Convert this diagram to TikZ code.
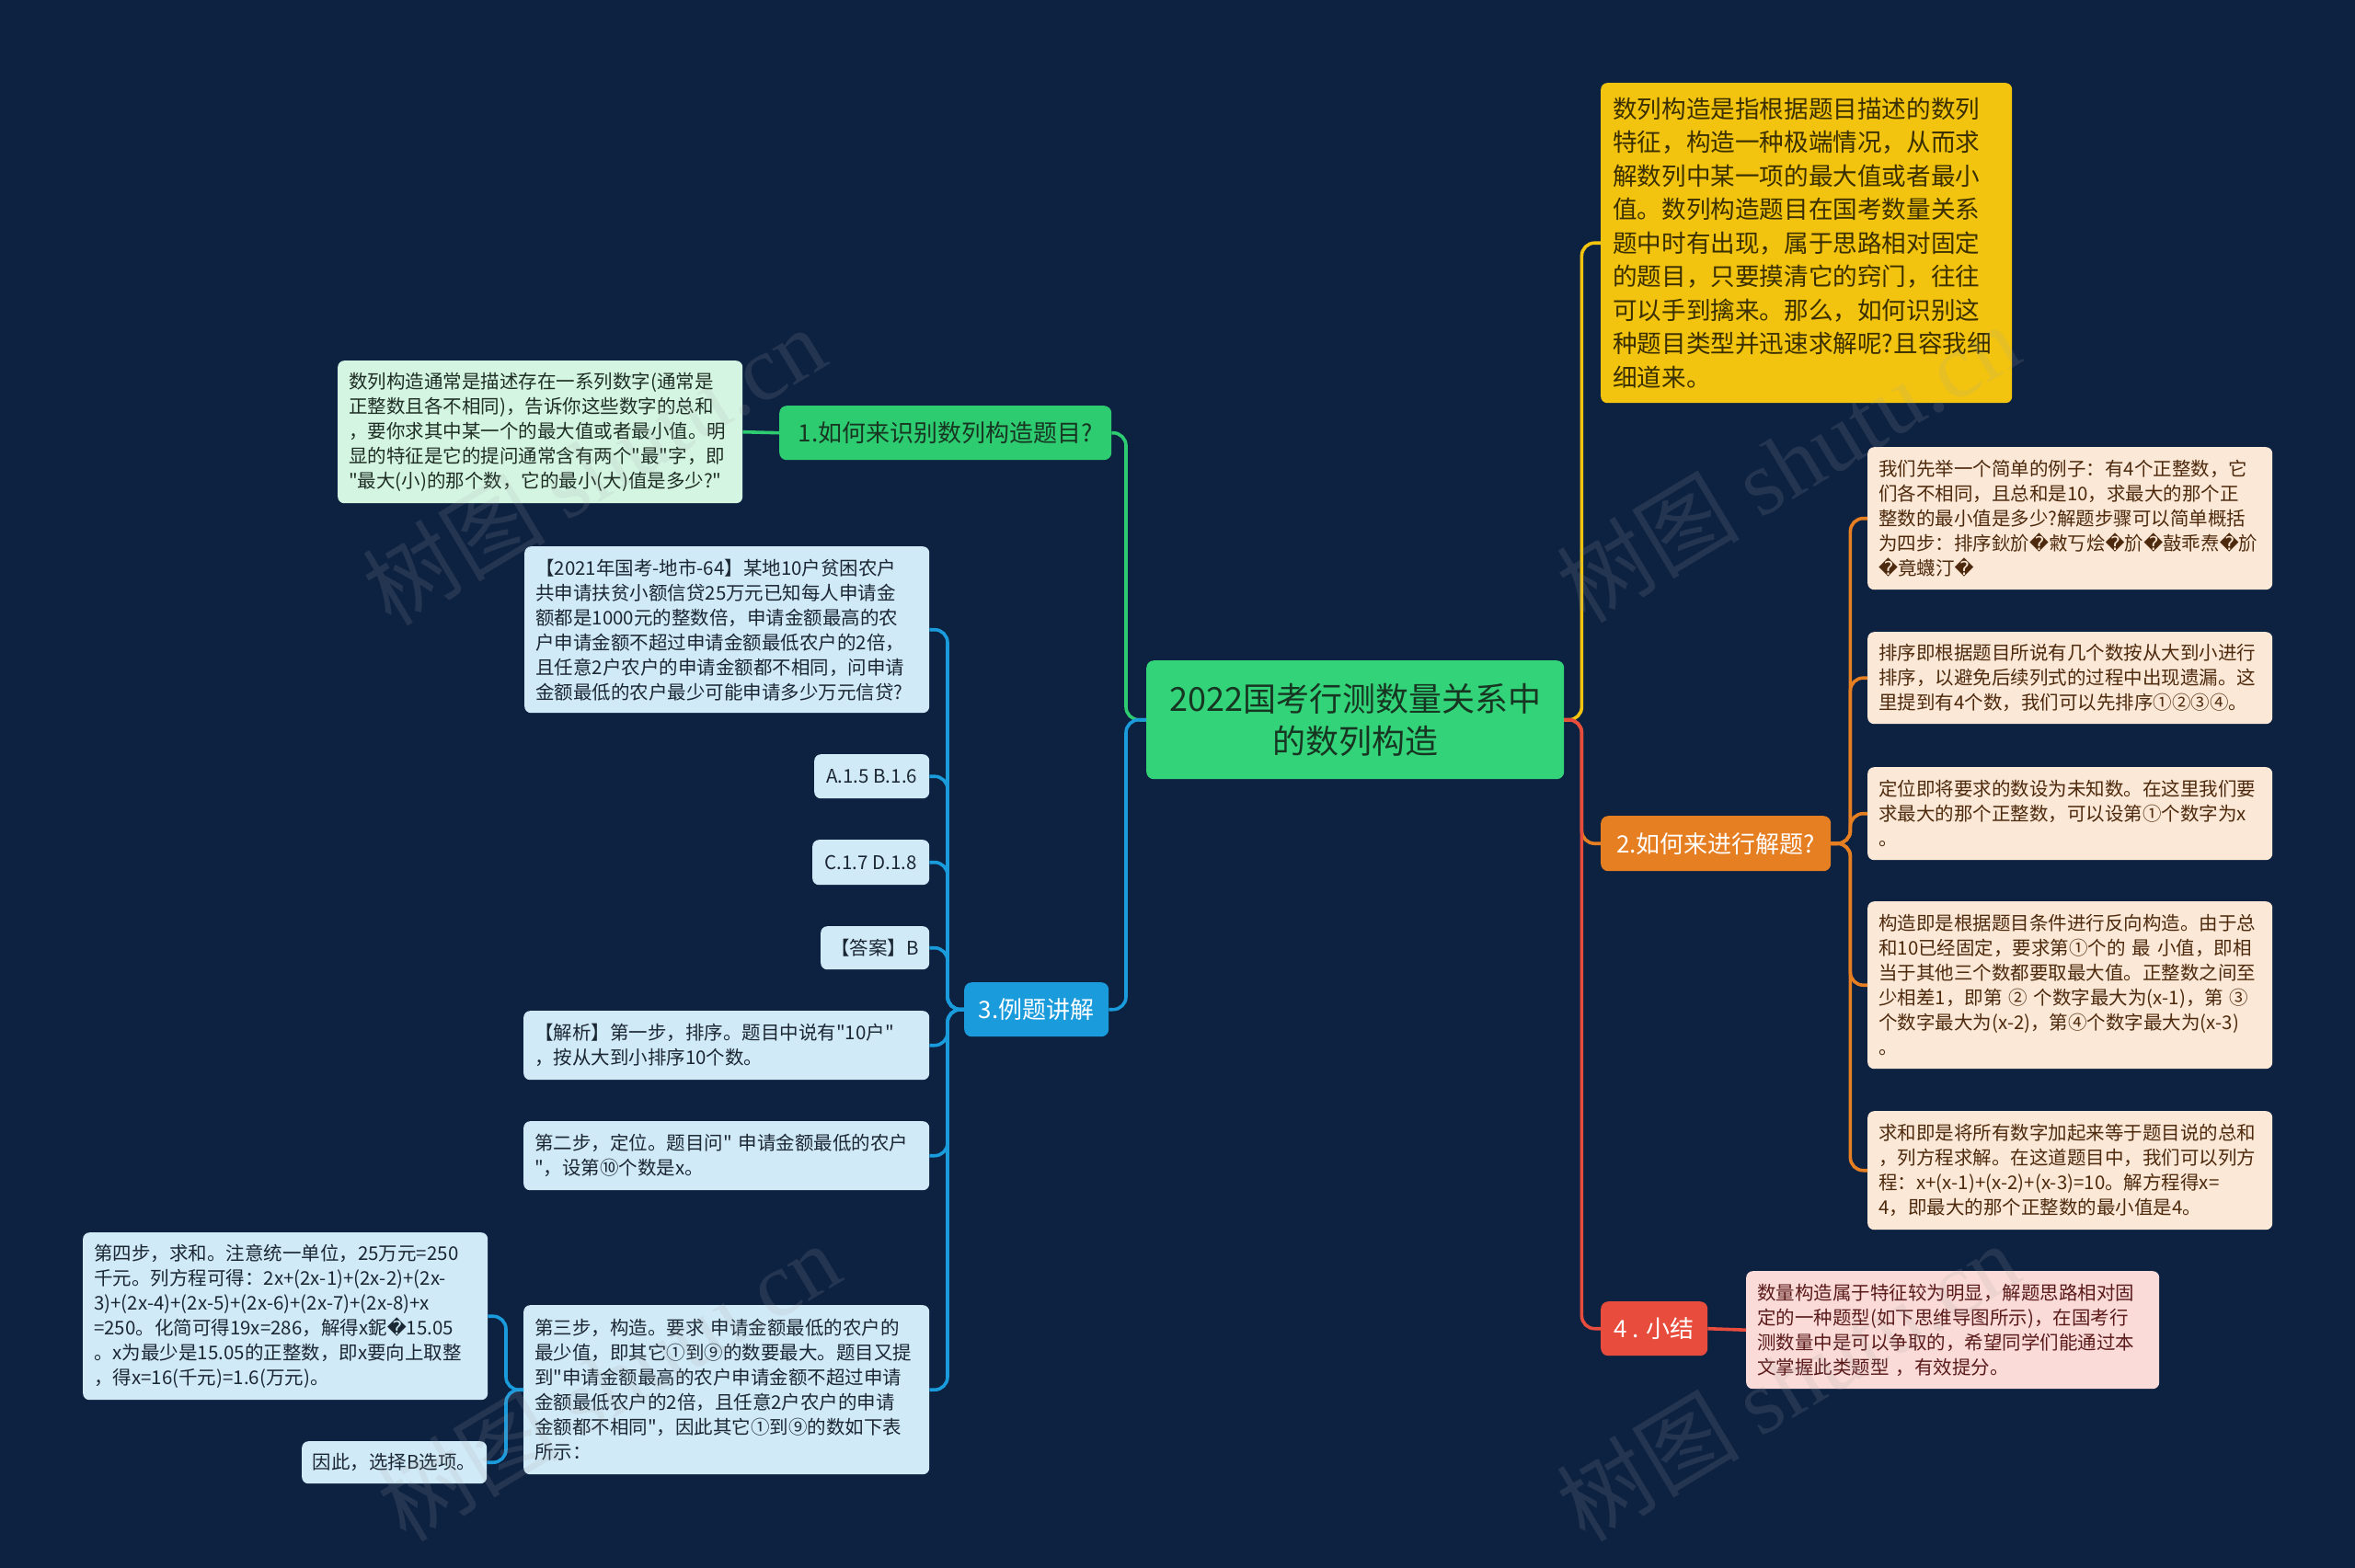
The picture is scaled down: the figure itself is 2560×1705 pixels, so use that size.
\documentclass[tikz,border=0pt]{standalone}
\usepackage{fontspec}
\setmainfont{Noto Sans CJK SC}[Ligatures=TeXOff]
\newfontfamily\dejavu{DejaVu Sans}
\newfontfamily\wmserif{Liberation Serif}
\newcommand{\rp}{{\dejavu\symbol{"FFFD}}}
\usetikzlibrary{calc}
\definecolor{bg}{HTML}{0D2241}
\definecolor{cgreen}{HTML}{33D37A}
\definecolor{cgreenb}{HTML}{2ECC71}
\definecolor{cblue}{HTML}{1A9BDC}
\definecolor{cyellow}{HTML}{F2C40F}
\definecolor{corange}{HTML}{E67E22}
\definecolor{cred}{HTML}{E74C3C}
\definecolor{mint}{HTML}{D5F5E3}
\definecolor{lblue}{HTML}{D1EAF7}
\definecolor{peach}{HTML}{FCE8D6}
\definecolor{pinkbox}{HTML}{FADBD8}
\definecolor{tgreen}{HTML}{173622}
\definecolor{tmint}{HTML}{1E2E24}
\definecolor{tblue}{HTML}{1B2733}
\definecolor{tpeach}{HTML}{4D2A0D}
\definecolor{tpink}{HTML}{5A1A1A}
\definecolor{tyellow}{HTML}{3B2F00}
\begin{document}
\begin{tikzpicture}[x=1pt,y=-1pt,
  conn/.style={line width=3.6pt, rounded corners=14pt},
  box/.style={rounded corners=7pt, anchor=north west, inner xsep=12pt, inner ysep=0pt, align=left, font=\fontsize{20.5}{27}\selectfont},
  sbox/.style={rounded corners=7pt, anchor=north west, inner sep=0pt, align=center, font=\fontsize{20.5}{27}\selectfont, fill=lblue, text=tblue},
  branch/.style={rounded corners=8pt, anchor=north west, inner sep=0pt, align=center, font=\fontsize{26}{32}\selectfont},
  wm/.style={rotate=31, opacity=0.15, text=gray!70, font=\fontsize{100}{100}\selectfont}
]
\fill[bg] (0,0) rectangle (2560,1705);
\useasboundingbox (0,0) rectangle (2560,1705);

% central and branches
\node[branch, fill=cgreen, text=tgreen, minimum width=454, minimum height=129, font=\fontsize{36}{46}\selectfont] (c) at (1246,718) {2022国考行测数量关系中\\的数列构造};
\node[branch, fill=cgreenb, text=tgreen, minimum width=361, minimum height=59] (n1) at (847,441) {1.如何来识别数列构造题目?};
\node[branch, fill=cblue, text=white, minimum width=157, minimum height=59] (n3) at (1048,1068) {3.例题讲解};
\node[branch, fill=corange, text=white, minimum width=250, minimum height=60] (n2) at (1740,887) {2.如何来进行解题?};
\node[branch, fill=cred, text=white, minimum width=116, minimum height=59] (n4) at (1740,1415) {4 . 小结};

% branch 1 child
\node[box, fill=mint, text=tmint, text width=416, minimum height=155] (m1) at (367,392) {数列构造通常是描述存在一系列数字(通常是\\正整数且各不相同)，告诉你这些数字的总和\\，要你求其中某一个的最大值或者最小值。明\\显的特征是它的提问通常含有两个"最"字，即\\"最大(小)的那个数，它的最小(大)值是多少?"};

% yellow intro
\node[box, fill=cyellow, text=tyellow, inner xsep=13pt, text width=421, minimum height=348, font=\fontsize{26.6}{36.5}\selectfont] (y) at (1740,90) {数列构造是指根据题目描述的数列\\特征，构造一种极端情况，从而求\\解数列中某一项的最大值或者最小\\值。数列构造题目在国考数量关系\\题中时有出现，属于思路相对固定\\的题目，只要摸清它的窍门，往往\\可以手到擒来。那么，如何识别这\\种题目类型并迅速求解呢?且容我细\\细道来。};

% branch 2 children
\node[box, fill=peach, text=tpeach, text width=416, minimum height=155] (a) at (2030,486) {我们先举一个简单的例子：有4个正整数，它\\们各不相同，且总和是10，求最大的那个正\\整数的最小值是多少?解题步骤可以简单概括\\为四步：排序鈥斺\rp 敹丂烩\rp 斺\rp 敼乖焘\rp 斺\\\rp 竟蠛汀\rp};
\node[box, fill=peach, text=tpeach, text width=416, minimum height=100] (b) at (2030,687) {排序即根据题目所说有几个数按从大到小进行\\排序，以避免后续列式的过程中出现遗漏。这\\里提到有4个数，我们可以先排序①②③④。};
\node[box, fill=peach, text=tpeach, text width=416, minimum height=101] (d) at (2030,834) {定位即将要求的数设为未知数。在这里我们要\\求最大的那个正整数，可以设第①个数字为x\\。};
\node[box, fill=peach, text=tpeach, text width=416, minimum height=182] (e) at (2030,980) {构造即是根据题目条件进行反向构造。由于总\\和10已经固定，要求第①个的 最 小值，即相\\当于其他三个数都要取最大值。正整数之间至\\少相差1，即第 ② 个数字最大为(x-1)，第 ③\\个数字最大为(x-2)，第④个数字最大为(x-3)\\。};
\node[box, fill=peach, text=tpeach, text width=416, minimum height=129] (f) at (2030,1208) {求和即是将所有数字加起来等于题目说的总和\\，列方程求解。在这道题目中，我们可以列方\\程：x+(x-1)+(x-2)+(x-3)=10。解方程得x=\\4，即最大的那个正整数的最小值是4。};

% branch 4 child
\node[box, fill=pinkbox, text=tpink, text width=425, minimum height=128] (p) at (1898,1382) {数量构造属于特征较为明显，解题思路相对固\\定的一种题型(如下思维导图所示)，在国考行\\测数量中是可以争取的，希望同学们能通过本\\文掌握此类题型 ，有效提分。};

% branch 3 children
\node[box, fill=lblue, text=tblue, text width=416, minimum height=181] (q) at (570,594) {【2021年国考-地市-64】某地10户贫困农户\\共申请扶贫小额信贷25万元已知每人申请金\\额都是1000元的整数倍，申请金额最高的农\\户申请金额不超过申请金额最低农户的2倍，\\且任意2户农户的申请金额都不相同，问申请\\金额最低的农户最少可能申请多少万元信贷?};
\node[sbox, minimum width=125, minimum height=48] (oa) at (885,820) {A.1.5 B.1.6};
\node[sbox, minimum width=127, minimum height=49] (oc) at (883,913) {C.1.7 D.1.8};
\node[sbox, minimum width=118, minimum height=47] (ans) at (892,1007) {【答案】B};
\node[box, fill=lblue, text=tblue, text width=417, minimum height=75] (s1) at (569,1099) {【解析】第一步，排序。题目中说有"10户"\\，按从大到小排序10个数。};
\node[box, fill=lblue, text=tblue, text width=417, minimum height=75] (s2) at (569,1219) {第二步，定位。题目问" 申请金额最低的农户\\"，设第⑩个数是x。};
\node[box, fill=lblue, text=tblue, text width=417, minimum height=184] (s3) at (569,1419) {第三步，构造。要求 申请金额最低的农户的\\最少值，即其它①到⑨的数要最大。题目又提\\到"申请金额最高的农户申请金额不超过申请\\金额最低农户的2倍，且任意2户农户的申请\\金额都不相同"，因此其它①到⑨的数如下表\\所示：};
\node[box, fill=lblue, text=tblue, text width=416, minimum height=182] (s4) at (90,1340) {第四步，求和。注意统一单位，25万元=250\\千元。列方程可得：2x+(2x-1)+(2x-2)+(2x-\\3)+(2x-4)+(2x-5)+(2x-6)+(2x-7)+(2x-8)+x\\=250。化简可得19x=286，解得x鈮\rp 15.05\\。x为最少是15.05的正整数，即x要向上取整\\，得x=16(千元)=1.6(万元)。};
\node[sbox, minimum width=201, minimum height=46] (s5) at (328,1567) {因此，选择B选项。};

% connectors: left side
\draw[conn, cgreenb] (c.west) -- ++(-22,0) |- (n1.east);
\draw[conn, cblue] (c.west) -- ++(-22,0) |- (n3.east);
\draw[conn, cgreenb] (n1.west) -- (m1.east);
\foreach \t in {q,oa,oc,ans,s1,s2,s3}{
  \draw[conn, cblue] (n3.west) -- ++(-18,0) |- (\t.east);
}
\draw[conn, cblue] (s3.west) -- ++(-19,0) |- (s4.east);
\draw[conn, cblue] (s3.west) -- ++(-19,0) |- (s5.east);

% connectors: right side
\draw[conn, cyellow] (c.east) -- ++(19,0) |- (y.west);
\draw[conn, corange] (c.east) -- ++(19,0) |- (n2.west);
\draw[conn, cred] (c.east) -- ++(19,0) |- (n4.west);
\foreach \t in {a,b,d,e,f}{
  \draw[conn, corange] (n2.east) -- ++(21,0) |- (\t.west);
}
\draw[conn, cred] (n4.east) -- (p.west);

% watermarks
\node[wm] (w1) at (645,506) {树图 {\wmserif shutu.cn}};
\node[wm] (w2) at (1943,503) {树图 {\wmserif shutu.cn}};
\node[wm] (w3) at (661,1502) {树图 {\wmserif shutu.cn}};
\node[wm] (w4) at (1943,1502) {树图 {\wmserif shutu.cn}};
\end{tikzpicture}
\end{document}
